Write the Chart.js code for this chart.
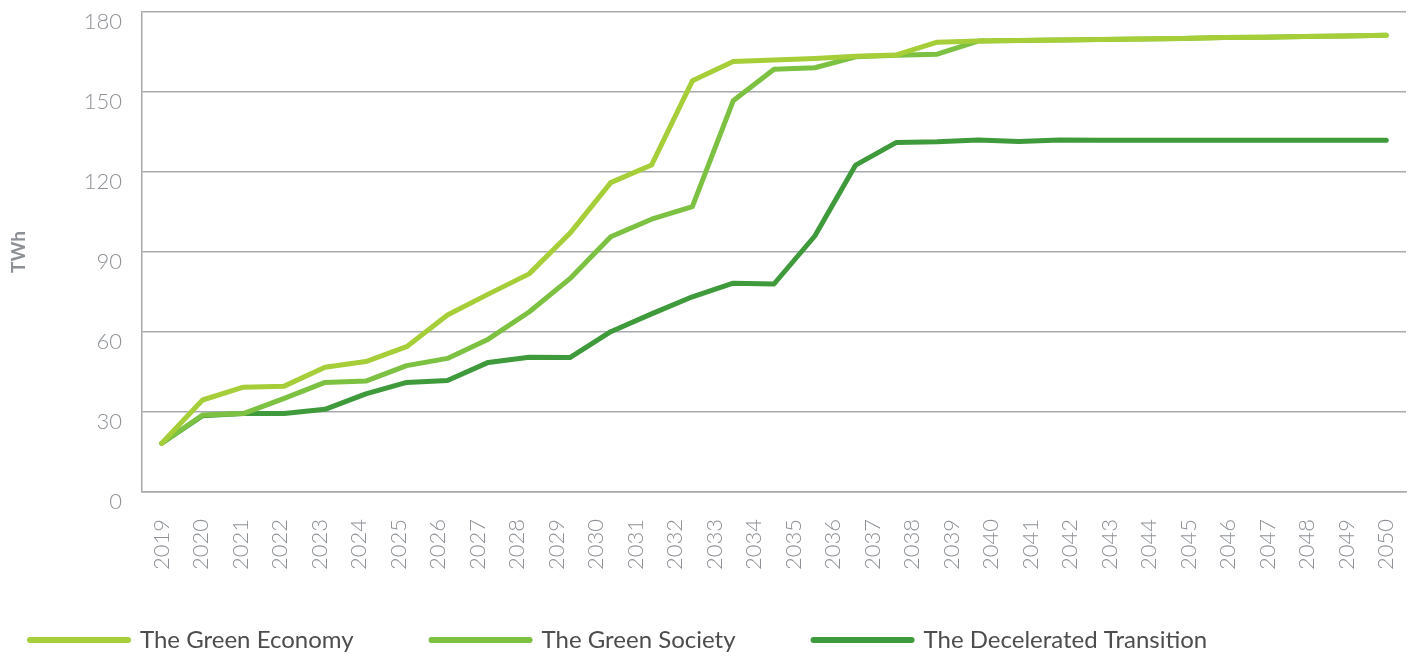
<!DOCTYPE html>
<html>
<head>
<meta charset="utf-8">
<script src="https://cdn.jsdelivr.net/npm/chart.js@4/dist/chart.umd.min.js"></script>
<style>
  html, body { margin: 0; padding: 0; background: #ffffff; }
  #wrap { width: 1419px; height: 656px; position: relative; }
</style>
</head>
<body>
<div id="wrap"><canvas id="c"></canvas></div>
<script>
// ---- data ----
const years = ['2019','2020','2021','2022','2023','2024','2025','2026','2027','2028','2029','2030','2031','2032','2033','2034','2035','2036','2037','2038','2039','2040','2041','2042','2043','2044','2045','2046','2047','2048','2049','2050'];
const yTicks = [0, 30, 60, 90, 120, 150, 180];
const seriesNames = ['The Green Economy', 'The Green Society', 'The Decelerated Transition'];
const greenEconomy = [18.3, 34.5, 39.3, 39.7, 46.8, 48.9, 54.5, 66.4, 74.2, 81.8, 97.0, 116.0, 122.6, 154.2, 161.4, 162.0, 162.6, 163.4, 163.9, 168.7, 169.1, 169.3, 169.5, 169.7, 169.9, 170.1, 170.4, 170.5, 170.8, 171.0, 171.3];
const greenSociety = [18.3, 28.9, 29.4, 35.1, 41.1, 41.6, 47.4, 50.1, 57.3, 67.5, 80.0, 95.7, 102.3, 107.0, 146.7, 158.5, 159.1, 163.2, 163.8, 164.2, 169.1, 169.3, 169.5, 169.7, 169.9, 170.1, 170.4, 170.5, 170.8, 171.0, 171.3];
const decelerated = [18.3, 28.6, 29.4, 29.4, 31.0, 36.8, 41.1, 41.8, 48.6, 50.5, 50.4, 60.1, 66.8, 73.2, 78.3, 78.0, 96.0, 122.6, 131.1, 131.3, 132.0, 131.4, 132.0, 131.9, 131.9, 131.9, 131.9, 131.9, 131.9, 131.9, 131.9];

// ---- styling ----
const colors = ['#a6ce39', '#7cc142', '#3f9a3b'];
const gridColor = '#a7a9ac';
const tickColor = '#8d9196';
const FONT = 'Lato, "Open Sans", sans-serif';

// the series points are spread evenly across the labelled years
const nPts = greenEconomy.length;
const nLab = years.length;
const span = (nPts - 1) * nLab / (nLab - 1);
const pad = (span - (nPts - 1)) / 2;

function toPoints(arr) { return arr.map((v, i) => ({ x: i, y: v })); }

const LEGEND_X = 30, LEGEND_Y = 640, LEGEND_PAD = 78, LEGEND_FONT = 24;
const X_AXIS_H = 90;
const legendPlace = {
  id: 'legendPlace',
  afterLayout(chart) {
    const l = chart.legend;
    if (!l) return;
    l.left = LEGEND_X - LEGEND_PAD;
    l.top = LEGEND_Y - LEGEND_PAD - LEGEND_FONT / 2;
  }
};

const mk = (label, arr, color) => ({
  label, data: toPoints(arr), xAxisID: 'xd', yAxisID: 'y',
  borderColor: color, backgroundColor: color, borderWidth: 5,
  pointRadius: 0, pointHoverRadius: 0, tension: 0,
  borderCapStyle: 'round', borderJoinStyle: 'round', fill: false
});

new Chart(document.getElementById('c'), {
  type: 'line',
  data: {
    labels: years,
    datasets: [
      mk(seriesNames[0], greenEconomy, colors[0]),
      mk(seriesNames[1], greenSociety, colors[1]),
      mk(seriesNames[2], decelerated, colors[2])
    ]
  },
  plugins: [legendPlace],
  options: {
    responsive: true,
    maintainAspectRatio: false,
    animation: false,
    devicePixelRatio: 1,
    layout: { padding: { left: 0, right: 13, top: 12, bottom: 164 - X_AXIS_H - (LEGEND_FONT + LEGEND_PAD + 10) } },
    plugins: {
      tooltip: { enabled: false },
      legend: {
        position: 'bottom',
        align: 'start',
        labels: {
          usePointStyle: true,
          pointStyle: 'line',
          pointStyleWidth: 98,
          boxHeight: LEGEND_FONT,
          padding: LEGEND_PAD,
          color: '#4d4d4f',
          font: { family: FONT, size: LEGEND_FONT },
          generateLabels(chart) {
            const items = Chart.defaults.plugins.legend.labels.generateLabels(chart);
            items.forEach((it, i) => {
              it.lineWidth = 6; it.lineCap = 'round';
              it.strokeStyle = colors[i]; it.fillStyle = colors[i];
              it.pointStyle = 'line';
            });
            return items;
          }
        }
      }
    },
    scales: {
      x: {
        type: 'category',
        offset: true,
        grid: { display: false, drawTicks: false },
        border: { display: true, color: gridColor, width: 1.5 },
        ticks: {
          autoSkip: false, maxRotation: 90, minRotation: 90,
          padding: 27, color: tickColor,
          font: { family: FONT, size: 22, weight: 300 }
        },
        afterFit(s) { s.height = X_AXIS_H; s.paddingLeft = 0; s.paddingRight = 0; }
      },
      xd: {
        type: 'linear', display: false,
        min: -pad, max: (nPts - 1) + pad
      },
      y: {
        min: yTicks[0], max: yTicks[yTicks.length - 1],
        afterBuildTicks(s) { s.ticks = yTicks.map(v => ({ value: v })); },
        grid: { color: gridColor, lineWidth: 1.5, drawTicks: false },
        border: { display: true, color: gridColor, width: 1.5 },
        ticks: {
          padding: 20, labelOffset: 10, color: tickColor,
          font: { family: FONT, size: 22, weight: 300 }
        },
        title: {
          display: true, text: 'TWh', color: tickColor,
          font: { family: FONT, size: 19, weight: 'bold' },
          padding: { top: 7, bottom: 0 }
        },
        afterFit(s) { s.width = 142; s.paddingTop = 0; s.paddingBottom = 0; }
      }
    }
  }
});
</script>
</body>
</html>
